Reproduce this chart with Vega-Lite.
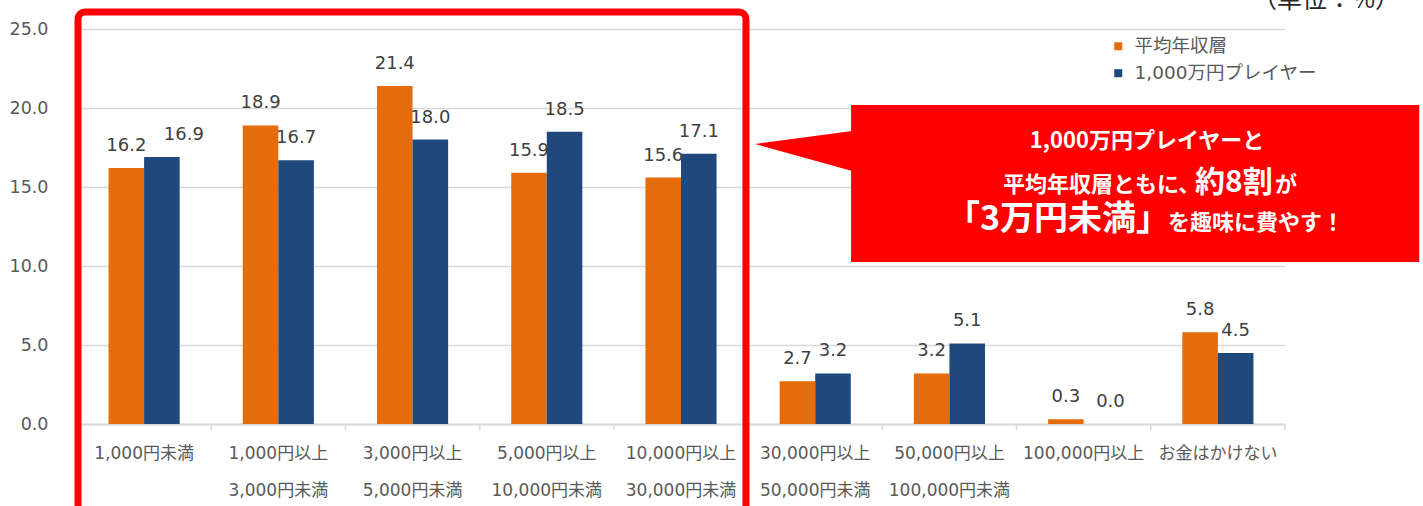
{
  "$schema": "https://vega.github.io/schema/vega-lite/v6.json",
  "width": 1208,
  "height": 395,
  "autosize": {"type": "none"},
  "padding": {"left": 77, "top": 29, "right": 138, "bottom": 82},
  "background": "white",
  "config": {
    "font": "'DejaVu Sans', 'Noto Sans CJK JP'",
    "view": {"stroke": null}
  },
  "layer": [
    {
      "data": {
        "values": [
          {"cat": "1,000円未満", "series": "平均年収層", "v": 16.2},
          {"cat": "1,000円未満", "series": "1,000万円プレイヤー", "v": 16.9},
          {"cat": "1,000円以上|3,000円未満", "series": "平均年収層", "v": 18.9},
          {"cat": "1,000円以上|3,000円未満", "series": "1,000万円プレイヤー", "v": 16.7},
          {"cat": "3,000円以上|5,000円未満", "series": "平均年収層", "v": 21.4},
          {"cat": "3,000円以上|5,000円未満", "series": "1,000万円プレイヤー", "v": 18.0},
          {"cat": "5,000円以上|10,000円未満", "series": "平均年収層", "v": 15.9},
          {"cat": "5,000円以上|10,000円未満", "series": "1,000万円プレイヤー", "v": 18.5},
          {"cat": "10,000円以上|30,000円未満", "series": "平均年収層", "v": 15.6},
          {"cat": "10,000円以上|30,000円未満", "series": "1,000万円プレイヤー", "v": 17.1},
          {"cat": "30,000円以上|50,000円未満", "series": "平均年収層", "v": 2.7},
          {"cat": "30,000円以上|50,000円未満", "series": "1,000万円プレイヤー", "v": 3.2},
          {"cat": "50,000円以上|100,000円未満", "series": "平均年収層", "v": 3.2},
          {"cat": "50,000円以上|100,000円未満", "series": "1,000万円プレイヤー", "v": 5.1},
          {"cat": "100,000円以上", "series": "平均年収層", "v": 0.3},
          {"cat": "100,000円以上", "series": "1,000万円プレイヤー", "v": 0.0},
          {"cat": "お金はかけない", "series": "平均年収層", "v": 5.8},
          {"cat": "お金はかけない", "series": "1,000万円プレイヤー", "v": 4.5}
        ]
      },
      "encoding": {
        "x": {
          "field": "cat",
          "type": "nominal",
          "sort": null,
          "scale": {"paddingInner": 0.47, "paddingOuter": 0.235},
          "axis": {
            "title": null,
            "labelAngle": 0,
            "labelExpr": "split(datum.label, '|')",
            "labelFontSize": 17,
            "labelColor": "#595959",
            "labelLineHeight": 37,
            "labelPadding": 21,
            "labelBaseline": "top",
            "labelLimit": 200,
            "domainColor": "#d9d9d9",
            "domainWidth": 2,
            "ticks": false,
            "grid": false
          }
        },
        "xOffset": {"field": "series", "type": "nominal", "sort": ["平均年収層", "1,000万円プレイヤー"]},
        "y": {
          "field": "v",
          "type": "quantitative",
          "scale": {"domain": [0, 25], "nice": false},
          "axis": {
            "title": null,
            "values": [0, 5, 10, 15, 20, 25],
            "format": ".1f",
            "domain": false,
            "ticks": false,
            "labelFontSize": 17.5,
            "labelColor": "#595959",
            "labelPadding": 29,
            "gridColor": "#d9d9d9",
            "gridWidth": 1.5
          }
        }
      },
      "layer": [
        {
          "mark": {"type": "bar"},
          "encoding": {
            "color": {
              "field": "series",
              "type": "nominal",
              "scale": {"domain": ["平均年収層", "1,000万円プレイヤー"], "range": ["#E46C0A", "#1F497D"]},
              "legend": {
                "title": null,
                "orient": "none",
                "legendX": 1032,
                "legendY": 8,
                "symbolType": "square",
                "symbolSize": 64,
                "symbolStrokeWidth": 0,
                "labelFontSize": 18.5,
                "labelColor": "#595959",
                "labelOffset": 7,
                "labelLimit": 400,
                "rowPadding": 8,
                "padding": 0
              }
            }
          }
        },
        {
          "transform": [{"filter": "!((datum.cat == '1,000円未満' || datum.cat == '100,000円以上') && datum.series == '1,000万円プレイヤー')"}],
          "mark": {"type": "text", "baseline": "bottom", "dy": -13, "fontSize": 18, "color": "#404040"},
          "encoding": {
            "text": {"field": "v", "type": "quantitative", "format": ".1f"}
          }
        },
        {
          "transform": [{"filter": "datum.cat == '1,000円未満' && datum.series == '1,000万円プレイヤー'"}],
          "mark": {"type": "text", "baseline": "bottom", "dy": -13, "dx": 22, "fontSize": 18, "color": "#404040"},
          "encoding": {
            "text": {"field": "v", "type": "quantitative", "format": ".1f"}
          }
        },
        {
          "transform": [{"filter": "datum.cat == '100,000円以上' && datum.series == '1,000万円プレイヤー'"}],
          "mark": {"type": "text", "baseline": "bottom", "dy": -13, "dx": 9, "fontSize": 18, "color": "#404040"},
          "encoding": {
            "text": {"field": "v", "type": "quantitative", "format": ".1f"}
          }
        }
      ]
    },
    {
      "layer": [
        {
          "data": {"values": [{"u": 1}, {"u": 2}, {"u": 3}, {"u": 4}, {"u": 5}, {"u": 6}, {"u": 7}, {"u": 8}, {"u": 9}]},
          "mark": {"type": "rule", "color": "#d9d9d9", "strokeWidth": 1.5},
          "encoding": {
            "x": {"field": "u", "type": "quantitative", "scale": {"domain": [0, 9], "nice": false, "zero": false}, "axis": null},
            "y": {"datum": 0, "type": "quantitative", "scale": {"domain": [0, 25], "nice": false}, "axis": null},
            "y2": {"datum": -0.4}
          }
        },
        {
          "data": {"values": [{"u1": 0.0075, "u2": 4.984, "y1": 26.08, "y2": -6}]},
          "mark": {"type": "rect", "filled": false, "stroke": "#FF0000", "strokeWidth": 7, "cornerRadius": 7},
          "encoding": {
            "x": {"field": "u1", "type": "quantitative", "scale": {"domain": [0, 9], "nice": false, "zero": false}, "axis": null},
            "x2": {"field": "u2"},
            "y": {"field": "y1", "type": "quantitative", "scale": {"domain": [0, 25], "nice": false}, "axis": null},
            "y2": {"field": "y2"}
          }
        },
        {
          "data": {"values": [{"u": 5.051, "lo": 17.72, "hi": 17.72}, {"u": 5.775, "lo": 16.01, "hi": 18.54}]},
          "mark": {"type": "area", "color": "#FF0000", "opacity": 1},
          "encoding": {
            "x": {"field": "u", "type": "quantitative", "scale": {"domain": [0, 9], "nice": false, "zero": false}, "axis": null},
            "y": {"field": "lo", "type": "quantitative", "scale": {"domain": [0, 25], "nice": false}, "axis": null},
            "y2": {"field": "hi"}
          }
        },
        {
          "data": {"values": [{"u1": 5.767, "u2": 10.0, "y1": 20.19, "y2": 10.25}]},
          "mark": {"type": "rect", "color": "#FF0000", "opacity": 1},
          "encoding": {
            "x": {"field": "u1", "type": "quantitative", "scale": {"domain": [0, 9], "nice": false, "zero": false}, "axis": null},
            "x2": {"field": "u2"},
            "y": {"field": "y1", "type": "quantitative", "scale": {"domain": [0, 25], "nice": false}, "axis": null},
            "y2": {"field": "y2"}
          }
        },
        {
          "data": {"values": [
            {"u": 7.972, "y": 17.47, "t": "1,000万円プレイヤーと"}
          ]},
          "mark": {"type": "text", "align": "center", "baseline": "alphabetic", "font": "Noto Sans CJK JP", "fontWeight": "bold", "fontSize": 22, "color": "white"},
          "encoding": {
            "x": {"field": "u", "type": "quantitative", "scale": {"domain": [0, 9], "nice": false, "zero": false}, "axis": null},
            "y": {"field": "y", "type": "quantitative", "scale": {"domain": [0, 25], "nice": false}, "axis": null},
            "text": {"field": "t"}
          }
        },
        {
          "data": {"values": [
            {"u": 6.899, "y": 14.68, "t": "平均年収層ともに、"},
            {"u": 8.926, "y": 14.68, "t": "が"},
            {"u": 8.128, "y": 12.28, "t": "を趣味に費やす！"}
          ]},
          "mark": {"type": "text", "align": "left", "baseline": "alphabetic", "font": "Noto Sans CJK JP", "fontWeight": "bold", "fontSize": 22, "color": "white"},
          "encoding": {
            "x": {"field": "u", "type": "quantitative", "scale": {"domain": [0, 9], "nice": false, "zero": false}, "axis": null},
            "y": {"field": "y", "type": "quantitative", "scale": {"domain": [0, 25], "nice": false}, "axis": null},
            "text": {"field": "t"}
          }
        },
        {
          "data": {"values": [
            {"u": 8.33, "y": 14.68, "t": "約8割"}
          ]},
          "mark": {"type": "text", "align": "left", "baseline": "alphabetic", "font": "Noto Sans CJK JP", "fontWeight": "bold", "fontSize": 30, "color": "white"},
          "encoding": {
            "x": {"field": "u", "type": "quantitative", "scale": {"domain": [0, 9], "nice": false, "zero": false}, "axis": null},
            "y": {"field": "y", "type": "quantitative", "scale": {"domain": [0, 25], "nice": false}, "axis": null},
            "text": {"field": "t"}
          }
        },
        {
          "data": {"values": [
            {"u": 8.143, "y": 12.28, "t": "「3万円未満」"}
          ]},
          "mark": {"type": "text", "align": "right", "baseline": "alphabetic", "font": "Noto Sans CJK JP", "fontWeight": "bold", "fontSize": 34, "color": "white"},
          "encoding": {
            "x": {"field": "u", "type": "quantitative", "scale": {"domain": [0, 9], "nice": false, "zero": false}, "axis": null},
            "y": {"field": "y", "type": "quantitative", "scale": {"domain": [0, 25], "nice": false}, "axis": null},
            "text": {"field": "t"}
          }
        },
        {
          "data": {"values": [
            {"u": 9.857, "y": 26.33, "t": "（単位：%）"}
          ]},
          "mark": {"type": "text", "align": "right", "baseline": "alphabetic", "font": "Noto Sans CJK JP", "fontSize": 25, "color": "#262626"},
          "encoding": {
            "x": {"field": "u", "type": "quantitative", "scale": {"domain": [0, 9], "nice": false, "zero": false}, "axis": null},
            "y": {"field": "y", "type": "quantitative", "scale": {"domain": [0, 25], "nice": false}, "axis": null},
            "text": {"field": "t"}
          }
        }
      ]
    }
  ],
  "resolve": {"scale": {"x": "independent"}, "axis": {"x": "independent", "y": "independent"}}
}
